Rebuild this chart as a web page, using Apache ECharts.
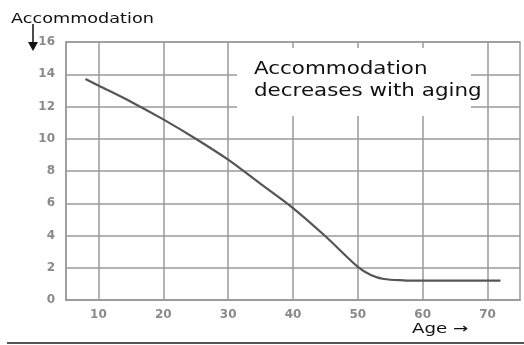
<!DOCTYPE html>
<html>
<head>
<meta charset="utf-8">
<script src="https://cdn.jsdelivr.net/npm/echarts@6/dist/echarts.min.js"></script>
<style>
html, body { margin: 0; padding: 0; background: #fff; }
#chart { width: 524px; height: 345px; }
</style>
</head>
<body>
<div id="chart"></div>
<script>
// age (years) vs accommodation (diopters)
var ages = [8, 10, 15, 20, 25, 30, 35, 40, 45, 50, 52, 54, 57, 60, 65, 72];
var accommodation = [13.7, 13.3, 12.3, 11.2, 10.0, 8.7, 7.2, 5.7, 3.95, 2.05, 1.55, 1.3, 1.22, 1.2, 1.2, 1.2];
var xTicks = [10, 20, 30, 40, 50, 60, 70];

var gridColor = '#9a9a9a';
var labelColor = '#8a8a8a';

var points = [];
for (var i = 0; i < ages.length; i++) {
    points.push([ages[i], accommodation[i]]);
}

var chart = echarts.init(document.getElementById('chart'));
var option = {
    animation: false,
    grid: {
        left: 66,
        right: 4,
        top: 42,
        bottom: 45,
        show: true,
        borderColor: gridColor,
        borderWidth: 1.5
    },
    xAxis: {
        type: 'value',
        min: 5,
        max: 75,
        axisLine: { show: true, lineStyle: { color: gridColor, width: 1.5 } },
        axisTick: { show: false, customValues: xTicks },
        axisLabel: {
            customValues: xTicks,
            color: labelColor,
            fontFamily: 'DejaVu Sans',
            fontWeight: 'bold',
            fontSize: 12,
            margin: 9
        },
        splitLine: { show: true, lineStyle: { color: gridColor, width: 1.5 } }
    },
    yAxis: {
        type: 'value',
        min: 0,
        max: 16,
        interval: 2,
        axisLine: { show: true, lineStyle: { color: gridColor, width: 1.5 } },
        axisTick: { show: false },
        axisLabel: {
            color: labelColor,
            fontFamily: 'DejaVu Sans',
            fontWeight: 'bold',
            fontSize: 12,
            margin: 11
        },
        splitLine: { show: true, lineStyle: { color: gridColor, width: 1.5 } }
    },
    series: [
        {
            type: 'line',
            data: points,
            smooth: 0.3,
            symbol: 'none',
            lineStyle: { color: '#555', width: 2.2 },
            z: 5
        }
    ],
    graphic: [
        {
            type: 'rect',
            left: 237,
            top: 48,
            shape: { width: 234, height: 68 },
            style: { fill: '#fff' },
            z: 3
        },
        {
            type: 'text',
            x: 254,
            y: 58,
            scaleX: 1.19,
            style: {
                text: 'Accommodation\ndecreases with aging',
                font: '18px "DejaVu Sans"',
                fill: '#111',
                lineHeight: 22
            },
            z: 4
        },
        {
            type: 'text',
            x: 11,
            y: 12,
            scaleX: 1.26,
            style: {
                text: 'Accommodation',
                font: '14px "DejaVu Sans"',
                fill: '#111'
            },
            z: 6
        },
        {
            type: 'line',
            shape: { x1: 33, y1: 24, x2: 33, y2: 44 },
            style: { stroke: '#111', lineWidth: 1.5 },
            z: 6
        },
        {
            type: 'polygon',
            shape: { points: [[28, 42], [38, 42], [33, 51]] },
            style: { fill: '#111' },
            z: 6
        },
        {
            type: 'text',
            x: 412,
            y: 322,
            scaleX: 1.3,
            style: {
                text: 'Age \u2192',
                font: '14px "DejaVu Sans"',
                fill: '#111'
            },
            z: 6
        },
        {
            type: 'line',
            shape: { x1: 7, y1: 343, x2: 524, y2: 343 },
            style: { stroke: '#555', lineWidth: 2 },
            z: 6
        }
    ]
};
chart.setOption(option);
</script>
</body>
</html>
